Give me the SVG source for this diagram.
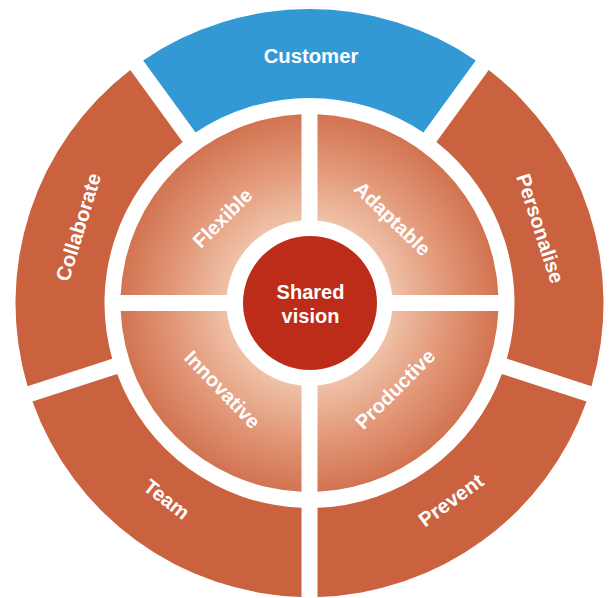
<svg xmlns="http://www.w3.org/2000/svg" width="615" height="598" viewBox="0 0 615 598">
  <defs>
    <!-- inner quadrants: light near the hub, deeper toward the rim -->
    <radialGradient id="quadFill" gradientUnits="userSpaceOnUse" cx="309.5" cy="303" r="189">
      <stop offset="0.44" stop-color="#EFC1A7"/>
      <stop offset="0.72" stop-color="#E29878"/>
      <stop offset="1" stop-color="#D27350"/>
    </radialGradient>
  </defs>
  <style>
    .ring { fill: #CA613F; }
    .accent { fill: #3399D5; }
    .quad { fill: url(#quadFill); }
    .hub { fill: #BC2C19; }
    .label { font-family: "Liberation Sans", Arial, Helvetica, sans-serif; font-weight: bold; fill: #FFFFFF; text-anchor: middle; }
    .outer { font-size: 20.3px; }
    .inner { font-size: 20px; }
  </style>

  <rect width="615" height="598" fill="#FFFFFF"/>

  <!-- outer ring: five 72-degree segments separated by 16px gaps -->
  <g id="customer">
    <path class="accent" d="M143.22,60.53 A294,294 0 0 1 475.78,60.53 L423.43,132.57 A205,205 0 0 0 195.57,132.57 Z"/>
    <text class="label outer" x="311" y="63" font-size="20.5">Customer</text>
  </g>
  <g id="personalise">
    <path class="ring" d="M488.72,69.94 A294,294 0 0 1 591.48,386.21 L506.79,358.69 A205,205 0 0 0 436.38,141.98 Z"/>
    <text class="label outer" transform="translate(540.3,228.5) rotate(72)" y="7">Personalise</text>
  </g>
  <g id="prevent">
    <path class="ring" d="M586.54,401.43 A294,294 0 0 1 317.5,596.89 L317.5,507.84 A205,205 0 0 0 501.85,373.91 Z"/>
    <text class="label outer" transform="translate(451,500.2) rotate(-36)" y="7">Prevent</text>
  </g>
  <g id="team">
    <path class="ring" d="M301.5,596.89 A294,294 0 0 1 32.46,401.43 L117.15,373.91 A205,205 0 0 0 301.5,507.84 Z"/>
    <text class="label outer" transform="translate(166.7,499.3) rotate(38)" y="7">Team</text>
  </g>
  <g id="collaborate">
    <path class="ring" d="M27.52,386.21 A294,294 0 0 1 130.28,69.94 L182.62,141.98 A205,205 0 0 0 112.21,358.69 Z"/>
    <text class="label outer" transform="translate(78.4,227) rotate(-73)" y="7">Collaborate</text>
  </g>

  <!-- inner quadrants -->
  <g id="adaptable">
    <path class="quad" d="M317.5,114.17 A189,189 0 0 1 498.33,295 L392.11,295 A83,83 0 0 0 317.5,220.39 Z"/>
    <text class="label inner" transform="translate(392.5,218.5) rotate(44)" y="7">Adaptable</text>
  </g>
  <g id="productive">
    <path class="quad" d="M498.33,311 A189,189 0 0 1 317.5,491.83 L317.5,385.61 A83,83 0 0 0 392.11,311 Z"/>
    <text class="label inner" transform="translate(395,389) rotate(-45)" y="7">Productive</text>
  </g>
  <g id="innovative">
    <path class="quad" d="M301.5,491.83 A189,189 0 0 1 120.67,311 L226.89,311 A83,83 0 0 0 301.5,385.61 Z"/>
    <text class="label inner" transform="translate(222.5,389.5) rotate(46)" y="7">Innovative</text>
  </g>
  <g id="flexible">
    <path class="quad" d="M120.67,295 A189,189 0 0 1 301.5,114.17 L301.5,220.39 A83,83 0 0 0 226.89,295 Z"/>
    <text class="label inner" transform="translate(222.5,218) rotate(-45)" y="7">Flexible</text>
  </g>

  <!-- hub -->
  <g id="shared-vision">
    <circle class="hub" cx="310" cy="303" r="67"/>
    <text class="label" x="310.5" y="299" font-size="20px">Shared</text>
    <text class="label" x="310.5" y="323" font-size="20px">vision</text>
  </g>
</svg>
